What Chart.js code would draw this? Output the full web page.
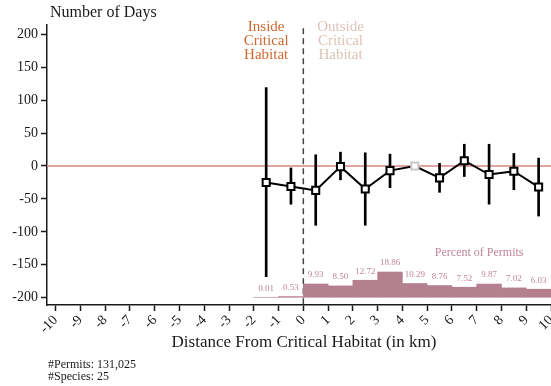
<!DOCTYPE html>
<html><head><meta charset="utf-8">
<script src="https://cdn.jsdelivr.net/npm/chart.js@4"></script>
<style>html,body{margin:0;padding:0;background:#fff}#wrap{width:551px;height:386px}</style>
</head><body><div id="wrap"><canvas id="c" width="551" height="386"></canvas></div>
<script>
// Distance bins (km from critical habitat boundary); negative = inside
const distances  = [-1.5, -0.5, 0.5, 1.5, 2.5, 3.5, 4.5, 5.5, 6.5, 7.5, 8.5, 9.5];
// Estimated effect on number of days, with confidence interval bounds
const dayEffects = [-25, -31, -37, -1, -35, -7, 0, -18, 8, -13, -8, -32];
const ciLower    = [-168, -58, -90, -21, -90, -33, 0, -40, -16, -58, -36, -76];
const ciUpper    = [119, -3, 17, 21, 20, 18, 0, 4, 33, 33, 19, 12];
// Share of permits falling in each bin (percent)
const permitPct  = [0.01, 0.53, 9.93, 8.50, 12.72, 18.86, 10.29, 8.76, 7.52, 9.87, 7.02, 6.03];
const referenceBin = 4.5;
const xTickValues = [-10,-9,-8,-7,-6,-5,-4,-3,-2,-1,0,1,2,3,4,5,6,7,8,9,10];
const yTickValues = [-200,-150,-100,-50,0,50,100,150,200];
const footnotes = ['#Permits: 131,025', '#Species: 25'];

const SERIF = '"Liberation Serif", "DejaVu Serif", serif';
const INK = '#1a1a1a';
const BAR_COLOR = '#b4808f';
const BAR_TEXT = '#c0879a';

const annotations = {
  id: 'annotations',
  beforeDatasetsDraw(chart) {
    const {ctx, chartArea: a, scales: {x, y}} = chart;
    ctx.save();
    // zero reference line
    const y0 = y.getPixelForValue(0);
    ctx.strokeStyle = '#d98585';
    ctx.lineWidth = 1.5;
    ctx.beginPath(); ctx.moveTo(a.left, y0); ctx.lineTo(a.right, y0); ctx.stroke();
    // habitat boundary
    const x0 = x.getPixelForValue(0);
    ctx.strokeStyle = '#444';
    ctx.setLineDash([6, 4]);
    ctx.beginPath(); ctx.moveTo(x0, y.getPixelForValue(209)); ctx.lineTo(x0, a.bottom); ctx.stroke();
    ctx.restore();
  },
  afterDatasetsDraw(chart) {
    const {ctx, scales: {x, y}} = chart;
    ctx.save();
    // bar value labels
    const meta = chart.getDatasetMeta(2);
    ctx.font = '9px ' + SERIF;
    ctx.fillStyle = BAR_TEXT;
    ctx.textAlign = 'center';
    ctx.textBaseline = 'middle';
    meta.data.forEach((bar, i) => {
      ctx.fillText(permitPct[i].toFixed(2), bar.x, bar.y - 9);
    });
    ctx.font = '12px ' + SERIF;
    ctx.fillText('Percent of Permits', x.getPixelForValue(7.1), 253);

    // region labels
    ctx.font = '15px ' + SERIF;
    const lines = ['Critical', 'Habitat'];
    ctx.fillStyle = '#d2682e';
    ['Inside', ...lines].forEach((t, i) => ctx.fillText(t, x.getPixelForValue(-1.5), 27 + i * 14));
    ctx.fillStyle = '#dcc3b6';
    ['Outside', ...lines].forEach((t, i) => ctx.fillText(t, x.getPixelForValue(1.5), 27 + i * 14));

    // axis titles
    ctx.fillStyle = INK;
    ctx.textAlign = 'left';
    ctx.font = '16px ' + SERIF;
    ctx.fillText('Number of Days', 50, 13);
    ctx.textAlign = 'center';
    ctx.font = '17px ' + SERIF;
    ctx.fillText('Distance From Critical Habitat (in km)', 304, 343);
    ctx.textAlign = 'left';
    ctx.font = '12px ' + SERIF;
    footnotes.forEach((t, i) => ctx.fillText(t, 48, 365 + i * 12));
    ctx.restore();
  }
};

const axisCommon = {
  border: {color: INK, width: 1.5},
  grid: {drawOnChartArea: false, drawTicks: true, tickLength: 6, tickColor: INK, tickWidth: 1.5, offset: false}
};

new Chart(document.getElementById('c'), {
  type: 'bar',
  data: {
    datasets: [
      {
        type: 'line',
        order: 0,
        data: distances.map((d, i) => ({x: d, y: dayEffects[i]})),
        borderColor: '#000',
        borderWidth: 2,
        pointStyle: 'rect',
        pointRadius: 5,
        pointBorderWidth: 2,
        pointBackgroundColor: '#fff',
        pointBorderColor: distances.map(d => d === referenceBin ? '#c8c8c8' : '#000'),
        yAxisID: 'y'
      },
      {
        order: 1,
        data: distances.map((d, i) => ({x: d, y: [ciLower[i], ciUpper[i]]})),
        backgroundColor: '#000',
        barThickness: 2,
        grouped: false,
        yAxisID: 'y'
      },
      {
        order: 2,
        data: distances.map((d, i) => ({x: d, y: permitPct[i]})),
        backgroundColor: BAR_COLOR,
        barPercentage: 1,
        categoryPercentage: 1,
        grouped: false,
        yAxisID: 'yPct'
      }
    ]
  },
  options: {
    responsive: false,
    animation: false,
    events: [],
    layout: {autoPadding: false, padding: {top: 25, left: 0, right: 0, bottom: 0}},
    plugins: {legend: {display: false}, tooltip: {enabled: false}},
    scales: {
      x: {
        type: 'linear',
        offset: false,
        min: -10.35, max: 10,
        ...axisCommon,
        afterBuildTicks: s => { s.ticks = xTickValues.map(v => ({value: v})); },
        afterFit: s => { s.height = 81; s.paddingLeft = 0; s.paddingRight = 0; },
        ticks: {
          autoSkip: false,
          minRotation: 45, maxRotation: 45, padding: 1,
          color: INK, font: {family: SERIF, size: 14},
          callback: v => String(v)
        }
      },
      y: {
        type: 'linear',
        min: -211, max: 214,
        ...axisCommon,
        afterBuildTicks: s => { s.ticks = yTickValues.map(v => ({value: v})); },
        afterFit: s => { s.width = 47; s.paddingTop = 0; s.paddingBottom = 0; },
        ticks: {padding: 3, color: INK, font: {family: SERIF, size: 14}, callback: v => String(v)}
      },
      yPct: {
        type: 'linear',
        display: false,
        min: -5.75, max: 203.2
      }
    }
  },
  plugins: [annotations]
});
</script>
</body></html>
